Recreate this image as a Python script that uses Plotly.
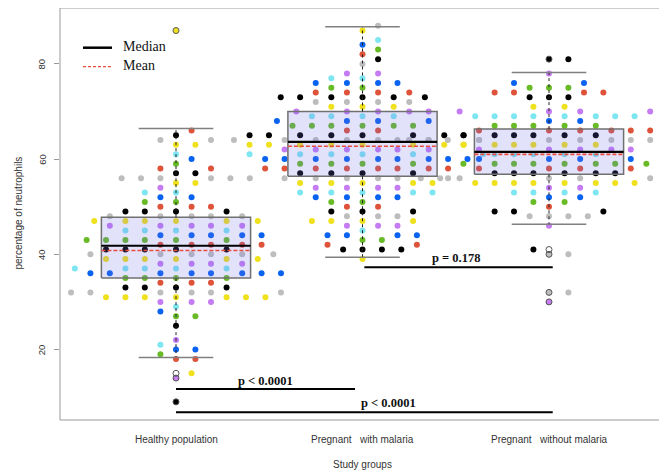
import numpy as np
import plotly.graph_objects as go

# ---------------- data ----------------
group_labels = ["Healthy population", "Pregnant\u00a0\u00a0 with malaria", "Pregnant\u00a0\u00a0 without malaria"]
group_pos = [1, 2, 3]

healthy_values = [87, 66, 65, 64, 63, 61, 60, 59, 58, 57, 56, 55, 54, 53, 52, 51, 50, 49, 48, 47,
                  46, 45, 44, 43, 42, 41, 40, 39, 38, 37, 36, 35, 34, 33, 32, 31, 30, 29, 28, 27,
                  25, 22, 21, 20, 19, 18, 15, 14, 9]
healthy_counts = [1, 1, 1, 2, 2, 1, 1, 1, 2, 2, 6, 2, 1, 2, 2, 2, 3, 4, 5, 6,
                  5, 4, 5, 6, 5, 5, 6, 6, 4, 5, 8, 4, 3, 4, 6, 7, 3, 1, 1, 2,
                  1, 1, 1, 2, 1, 2, 1, 1, 1]

malaria_values = [88, 87, 85, 84, 83, 82, 81, 80, 78, 77, 76, 75, 74, 73, 72, 71, 70, 69, 68, 67,
                  66, 65, 64, 63, 62, 61, 60, 59, 58, 57, 56, 55, 54, 53, 52, 51, 50, 49, 48, 47,
                  46, 45, 44, 43, 42, 41, 39]
malaria_counts = [1, 1, 1, 1, 1, 1, 1, 1, 2, 2, 4, 2, 4, 6, 4, 3, 5, 4, 4, 6,
                  2, 8, 8, 8, 6, 6, 9, 4, 8, 4, 6, 5, 4, 5, 4, 2, 2, 3, 3, 4,
                  3, 1, 4, 2, 2, 4, 1]

nomalaria_values = [81, 78, 76, 75, 74, 73, 71, 70, 69, 68, 67, 66, 65, 64, 63, 62, 61, 60, 59, 58,
                    57, 56, 55, 54, 53, 52, 51, 50, 49, 48, 46, 41, 40, 32, 30]
nomalaria_counts = [2, 1, 2, 3, 4, 3, 2, 4, 8, 2, 5, 6, 6, 11, 6, 5, 5, 4, 8, 4,
                    6, 7, 8, 2, 4, 2, 2, 1, 3, 4, 1, 1, 2, 2, 1]

# box statistics
box_q1 = [35.0, 56.4, 56.8]
box_median = [41.8, 63.6, 61.5]
box_q3 = [47.8, 70.0, 66.3]
box_low = [18.3, 39.4, 46.3]
box_high = [66.4, 87.8, 78.2]
box_mean = [40.8, 62.7, 61.0]

healthy_outliers = [87, 15, 14, 9]
malaria_outliers = []
nomalaria_outliers = [81, 41, 40, 32, 30]

# comparisons
p_labels = ["p < 0.0001", "p < 0.0001", "p = 0.178"]
p_from = [1.0, 1.0, 2.01]
p_to = [1.96, 3.02, 3.02]
p_line_y = [11.7, 6.8, 37.3]
p_text_x = [1.48, 2.14, 2.503]
p_text_y = [13.3, 8.8, 39.3]

y_ticks = [20, 40, 60, 80]

# colour by value (period 8)
value_colors = {1: "#000000", 0: "#bdbdbd", 7: "#f0e11e", 6: "#c57cf2",
                5: "#7ee6f0", 4: "#0a62f0", 3: "#68bb26", 2: "#de533a"}

# ---------------- geometry ----------------
# page body has an 8px margin, so the figure is 8px smaller on each axis
W, H = 659, 466
m_l, m_r, m_t, m_b = 52, 2, 0, 54
x_range = [0.378, 3.622]
y_range = [5.19, 91.74]
plot_w = W - m_l - m_r
plot_h = H - m_t - m_b
px_per_x = plot_w / (x_range[1] - x_range[0])
px_per_y = plot_h / (y_range[1] - y_range[0])

SW_X = 19.4   # horizontal collision size (px)
SW_Y = 8.0    # vertical collision size (px)


def swarm_offsets(vals):
    vals = np.asarray(vals, dtype=float)
    order = np.argsort(vals, kind="stable")
    xs = vals[order] * px_per_y / SW_Y
    offs = np.zeros(len(xs))
    for i in range(1, len(xs)):
        xi = xs[i]
        prex = xs[:i]
        prey = offs[:i]
        close = np.abs(prex - xi) < 1
        if not close.any():
            offs[i] = 0.0
            continue
        cx = prex[close]
        cy = prey[close]
        d = np.sqrt(1 - (xi - cx) ** 2)
        cand = np.concatenate([[0.0], cy + d, cy - d])
        best = None
        for c in cand:
            if np.any((xi - cx) ** 2 + (c - cy) ** 2 < 0.999):
                continue
            if best is None or abs(c) < abs(best):
                best = c
        offs[i] = best
    res = np.empty(len(xs))
    res[order] = offs
    return res * SW_X / px_per_x


fig = go.Figure()

groups = [(healthy_values, healthy_counts), (malaria_values, malaria_counts),
          (nomalaria_values, nomalaria_counts)]

for gi, (vals, cnts) in enumerate(groups):
    pts = np.repeat(vals, cnts)
    off = swarm_offsets(pts)
    cols = [value_colors[int(v) % 8] for v in pts]
    fig.add_trace(go.Scatter(x=group_pos[gi] + off, y=pts, mode="markers",
                             marker=dict(size=6, color=cols, line=dict(width=0)),
                             hoverinfo="skip", showlegend=False))

BW = 0.4  # half box width
for gi in range(3):
    c = group_pos[gi]
    fig.add_trace(go.Scatter(x=[c - BW, c + BW, c + BW, c - BW, c - BW],
                             y=[box_q1[gi], box_q1[gi], box_q3[gi], box_q3[gi], box_q1[gi]],
                             mode="lines", fill="toself", fillcolor="rgba(110,110,235,0.20)",
                             line=dict(color="#707070", width=1.5), hoverinfo="skip", showlegend=False))
    for a, b in [(box_q3[gi], box_high[gi]), (box_q1[gi], box_low[gi])]:
        fig.add_trace(go.Scatter(x=[c, c], y=[a, b], mode="lines",
                                 line=dict(color="#222222", width=1, dash="dot"),
                                 hoverinfo="skip", showlegend=False))
    for b in [box_high[gi], box_low[gi]]:
        fig.add_trace(go.Scatter(x=[c - BW / 2, c + BW / 2], y=[b, b], mode="lines",
                                 line=dict(color="#808080", width=1.5),
                                 hoverinfo="skip", showlegend=False))
    fig.add_trace(go.Scatter(x=[c - BW, c + BW], y=[box_median[gi]] * 2, mode="lines",
                             line=dict(color="#000000", width=2.2), hoverinfo="skip", showlegend=False))
    fig.add_trace(go.Scatter(x=[c - BW, c + BW], y=[box_mean[gi]] * 2, mode="lines",
                             line=dict(color="#ea4b3c", width=1.6, dash="4px,2px"),
                             hoverinfo="skip", showlegend=False))

for gi, outs in enumerate([healthy_outliers, malaria_outliers, nomalaria_outliers]):
    if outs:
        fig.add_trace(go.Scatter(x=[group_pos[gi]] * len(outs), y=outs, mode="markers",
                                 marker=dict(symbol="circle-open", size=6, color="#555555",
                                             line=dict(width=1)),
                                 hoverinfo="skip", showlegend=False))

for i in range(len(p_labels)):
    fig.add_trace(go.Scatter(x=[p_from[i], p_to[i]], y=[p_line_y[i]] * 2, mode="lines",
                             line=dict(color="#000000", width=2), hoverinfo="skip", showlegend=False))


def py(y_px):
    return (420 - y_px) / plot_h


def px(x_px):
    return (x_px - 60) / plot_w


annotations = []
for i, t in enumerate(p_labels):
    annotations.append(dict(x=p_text_x[i], y=p_text_y[i], xref="x", yref="y", text="<b>%s</b>" % t,
                            xanchor="center", yanchor="middle", showarrow=False,
                            font=dict(family="Liberation Serif", size=12.5, color="#111")))
for v in y_ticks:
    annotations.append(dict(x=px(41.7), y=v, xref="paper", yref="y", text=str(v), textangle=-90,
                            xanchor="center", yanchor="middle", showarrow=False,
                            font=dict(family="Liberation Sans", size=9.5, color="#333")))
for gi, lab in enumerate(group_labels):
    annotations.append(dict(x=group_pos[gi], y=py(439), xref="x", yref="paper", text=lab,
                            xanchor="center", yanchor="middle", showarrow=False,
                            font=dict(family="Liberation Sans", size=10, color="#333")))
annotations.append(dict(x=0.5, y=py(464.3), xref="paper", yref="paper", text="Study groups",
                        xanchor="center", yanchor="middle", showarrow=False,
                        font=dict(family="Liberation Sans", size=10, color="#333")))
annotations.append(dict(x=px(18), y=py(213.5), xref="paper", yref="paper", text="percentage of neutrophils",
                        textangle=-90, xanchor="center", yanchor="middle", showarrow=False,
                        font=dict(family="Liberation Sans", size=10, color="#333")))
annotations.append(dict(x=px(120.5), y=py(46.5), xref="paper", yref="paper", text="Median",
                        xanchor="left", yanchor="middle", showarrow=False,
                        font=dict(family="Liberation Serif", size=14, color="#111")))
annotations.append(dict(x=px(120.5), y=py(65.5), xref="paper", yref="paper", text="Mean",
                        xanchor="left", yanchor="middle", showarrow=False,
                        font=dict(family="Liberation Serif", size=14, color="#111")))

shapes = [
    dict(type="rect", xref="paper", yref="paper", x0=0, x1=1, y0=0, y1=1,
         line=dict(color="#999999", width=1)),
    dict(type="line", xref="paper", yref="paper", x0=px(83), x1=px(112), y0=py(47.7), y1=py(47.7),
         line=dict(color="#000000", width=2.5)),
    dict(type="line", xref="paper", yref="paper", x0=px(83), x1=px(112), y0=py(66.7), y1=py(66.7),
         line=dict(color="#ea4b3c", width=1.3, dash="3px,2px")),
]

fig.update_layout(
    width=W, height=H,
    margin=dict(l=m_l, r=m_r, t=m_t, b=m_b, pad=0),
    paper_bgcolor="white", plot_bgcolor="white",
    xaxis=dict(range=x_range, showgrid=False, zeroline=False, showticklabels=False, ticks=""),
    yaxis=dict(range=y_range, showgrid=False, zeroline=False, showticklabels=False,
               ticks="outside", ticklen=5, tickcolor="#999999", tickvals=y_ticks),
    annotations=annotations, shapes=shapes, showlegend=False,
)

fig.write_html("out.html")
